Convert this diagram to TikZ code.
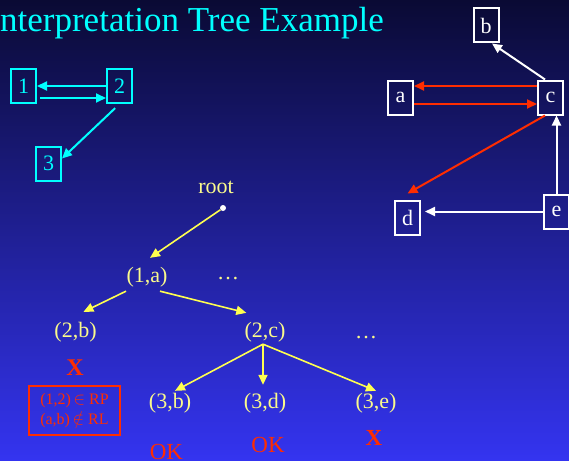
\documentclass[tikz,border=0pt]{standalone}
\usepackage{fontspec}
\setmainfont{Liberation Serif}
\usetikzlibrary{arrows.meta}

\definecolor{bgtop}{RGB}{10,10,52}
\definecolor{bgmid}{RGB}{30,30,165}
\definecolor{bgbottom}{RGB}{52,52,240}
\definecolor{relcyan}{RGB}{0,255,255}
\definecolor{relred}{RGB}{255,45,0}
\definecolor{treeyellow}{RGB}{250,250,140}
\definecolor{arrowyellow}{RGB}{255,255,80}

\begin{document}
\begin{tikzpicture}[x=1pt,y=-1pt,
  relbox/.style={draw,line width=2pt,minimum width=25pt,minimum height=34pt,inner sep=0pt,font=\fontsize{22}{22}\selectfont},
  rel/.style={line width=2pt,-{Triangle[length=10pt,width=9pt]}},
  tlabel/.style={text=treeyellow,inner sep=4pt,font=\fontsize{22}{22}\selectfont},
  tedge/.style={arrowyellow,line width=1.6pt,-{Triangle[length=10pt,width=9pt]}},
  verdict/.style={text=relred,inner sep=0pt,font=\fontsize{23}{23}\selectfont}]
\useasboundingbox (0,0) rectangle (569,460);
\clip (0,0) rectangle (569,460);
\shade[top color=bgtop,middle color=bgmid,bottom color=bgbottom] (0,0) rectangle (569,460);

% title
\node[anchor=base west,inner sep=0pt,text=relcyan,font=\fontsize{35}{35}\selectfont] (title) at (-11.7,32) {Interpretation Tree Example};

% model relations
\node[relbox,relcyan] (m1) at (23.5,86) {1};
\node[relbox,relcyan] (m2) at (119.5,86) {2};
\node[relbox,relcyan] (m3) at (48.5,163.5) {3};
\draw[rel,relcyan] (m2.west) -- (m1.east);
\draw[rel,relcyan,shorten <=3pt] ([yshift=-12pt]m1.east) -- ([yshift=-12pt]m2.west);
\draw[rel,relcyan,shorten <=6pt] (m2.south) -- ([yshift=5pt]m3.east);

% scene relations
\node[relbox,white] (sb) at (486,25.5) {b};
\node[relbox,white] (sa) at (400.5,97.5) {a};
\node[relbox,white] (sc) at (550.5,97.5) {c};
\node[relbox,white] (sd) at (407.5,217.5) {d};
\node[relbox,white] (se) at (556.5,211.5) {e};
\draw[rel,white] ([xshift=-5.5pt]sc.north) -- ([xshift=6pt]sb.south);
\draw[rel,relred] ([yshift=11.5pt]sc.west) -- ([yshift=11.5pt]sa.east);
\draw[rel,relred] ([yshift=-6.5pt]sa.east) -- ([yshift=-6.5pt]sc.west);
\draw[rel,relred] ([xshift=-5.5pt]sc.south) -- ([yshift=6pt]sd.north);
\draw[rel,white] (se.north) -- (se.north |- sc.south);
\draw[rel,white,shorten >=4pt] (se.west) -- (se.west -| sd.east);

% tree
\node[tlabel] (root) at (216,187) {root};
\node[circle,fill=white,inner sep=0pt,minimum size=6pt] (rootdot) at (223,208) {};
\node[tlabel] (n1a) at (147,277) {(1,a)};
\node[tlabel,anchor=base] (dots1) at (228,279) {\dots};
\node[tlabel] (n2b) at (75.5,332) {(2,b)};
\node[tlabel] (n2c) at (265,332) {(2,c)};
\node[tlabel,anchor=base] (dots2) at (366,338) {\dots};
\node[tlabel] (n3b) at (170,403) {(3,b)};
\node[tlabel] (n3d) at (265,403) {(3,d)};
\node[tlabel] (n3e) at (376,403) {(3,e)};

\draw[tedge] (rootdot) -- ([xshift=3pt,yshift=5pt]n1a.north);
\draw[tedge] ([xshift=-21pt]n1a.south) -- ([xshift=8pt,yshift=6pt]n2b.north);
\draw[tedge] ([xshift=13pt]n1a.south) -- ([xshift=6pt,yshift=5pt]n2c.north west);
\draw[tedge] ([xshift=-2pt,yshift=2pt]n2c.south) -- ([xshift=5pt,yshift=-2pt]n3b.north);
\draw[tedge] ([xshift=-2pt,yshift=2pt]n2c.south) -- ([xshift=-2pt,yshift=4pt]n3d.north);
\draw[tedge] ([xshift=-2pt,yshift=2pt]n2c.south) -- ([yshift=-2pt]n3e.north);

% verdicts
\node[verdict,font=\fontsize{24}{24}\bfseries] (x1) at (75,368) {X};
\node[draw=relred,line width=2pt,text=relred,align=left,inner sep=0pt,minimum width=91pt,minimum height=49pt,font=\fontsize{16}{20}\selectfont] (why) at (74.5,410.5) {(1,2)\,$\in$ RP\\(a,b)\,$\notin$ RL};
\node[verdict] (ok1) at (166.5,452) {OK};
\node[verdict] (ok2) at (268,444.5) {OK};
\node[verdict,font=\fontsize{23}{23}\bfseries] (x2) at (374,437.5) {X};
\end{tikzpicture}
\end{document}
